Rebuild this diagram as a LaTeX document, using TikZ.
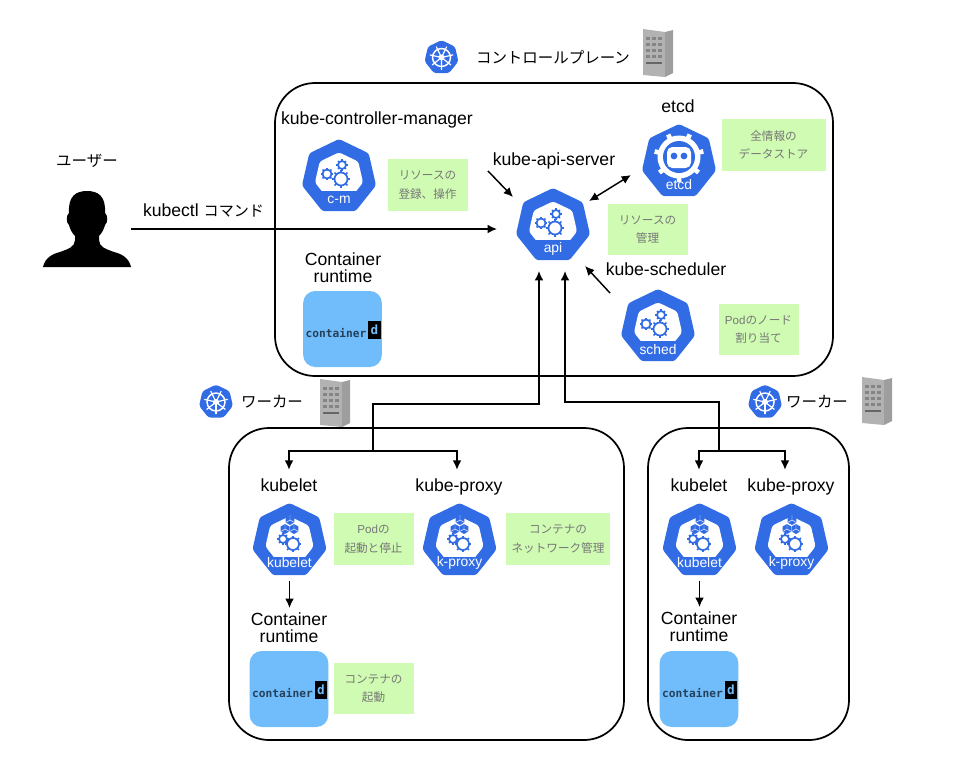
\documentclass[tikz,border=0pt]{standalone}
\usepackage{fontspec}
\setmainfont{Liberation Sans}
\newfontfamily\cjk{Noto Sans CJK JP}
\newfontfamily\cdmono{DejaVu Sans Mono}
\usepackage{xcolor}
\usetikzlibrary{shapes.geometric,arrows.meta,calc}

\definecolor{kubeblue}{HTML}{326CE5}
\definecolor{notegreen}{HTML}{CFFBB2}
\definecolor{notetext}{HTML}{777777}
\definecolor{cdblue}{HTML}{71BDFB}
\definecolor{cdtext}{HTML}{24405A}

\tikzset{
    arw/.style={-{Latex[length=7pt,width=6.5pt]},line width=1.1pt,black},
    planebox/.style={draw=black,line width=1.3pt,rounded corners=30pt,inner sep=0pt},
    titletext/.style={font=\fontsize{11.6}{14}\selectfont,inner sep=0pt},
    complabel/.style={font=\fontsize{13.2}{15}\selectfont,text height=9.5pt,text depth=1pt,inner sep=6.7pt},
    stacklabel/.style={font=\fontsize{13.2}{12.9}\selectfont,align=center,inner sep=3.5pt},
    notebox/.style={fill=notegreen,text=notetext,font=\cjk\fontsize{8.7}{14}\selectfont,align=center,
        minimum width=60pt,minimum height=38.5pt,inner sep=0pt},
    widenote/.style={notebox,minimum width=78pt},
    kubeicon/.style={regular polygon,regular polygon sides=7,fill=kubeblue,minimum size=57pt,
        rounded corners=2pt,inner sep=0pt,outer sep=0pt},
    kubeinner/.style={regular polygon,regular polygon sides=7,fill=white,minimum size=37pt,
        rounded corners=2pt,inner sep=0pt},
    icontext/.style={text=white,font=\fontsize{10.4}{11}\selectfont,inner sep=0pt},
    cdbox/.style={fill=cdblue,rounded corners=9pt,minimum width=59pt,minimum height=57pt,inner sep=0pt},
    % gear: radius in picture units
    pics/gear/.style={code={
        \foreach \a in {0,45,...,315}
            \draw[kubeblue,line width=1.3pt] (\a:#1) -- (\a:1.4*#1);
        \draw[kubeblue,line width=1.3pt] (0,0) circle (#1);
    }},
    % band under the white face, carries the icon text
    pics/iconband/.style={code={
        \fill[kubeblue] (-21,#1) rectangle (21,27);
    }},
    pics/cube/.style={code={
        \fill[kubeblue] (90:5) -- (30:5) -- (-30:5) -- (-90:5) -- (-150:5) -- (150:5) -- cycle;
        \draw[white,line width=.35pt] (0,0) -- (30:5) (0,0) -- (150:5) (0,0) -- (-90:5);
    }},
    pics/wheel/.style={code={
        \node[kubeicon,minimum size=26pt] (-hept) at (0,0) {};
        \draw[white,line width=1.1pt] (0,0) circle (9);
        \foreach \a in {90,141.4,...,450}
            \draw[white,line width=.9pt] (0,0) -- (\a:12);
        \fill[white] (0,0) circle (3);
    }},
    pics/server/.style={code={
        \fill[black!30] (-15,-24) -- (7,-21) -- (7,24) -- (-15,22) -- cycle;
        \fill[black!38] (7,-21) -- (15,-23) -- (15,20) -- (7,24) -- cycle;
        \foreach \r in {-16,-10,-4,2}
            \foreach \c in {-12,-6,0}
                \fill[black!48] (\c,\r) rectangle ++(4,2.5);
        \fill[black!60] (-12,9) rectangle (4,11);
    }},
    pics/containerd/.style={code={
        \node[text=cdtext,font=\cdmono\bfseries\fontsize{8.4}{10}\selectfont,inner sep=0pt] (-word) at (-6.5,4) {container};
        \node[fill=black,text=cdblue,font=\cdmono\bfseries\fontsize{9.5}{10}\selectfont,minimum width=9.7pt,minimum height=14pt,inner sep=0pt] (-d) at (32,1) {d};
    }},
}

\begin{document}
\begin{tikzpicture}[x=0.75pt,y=-0.75pt]
    \useasboundingbox (0,0) rectangle (975,768);

    % Planes
    \node[planebox,minimum width=418.5pt,minimum height=219.75pt] (cp) at (554,229.5) {};
    \node[planebox,minimum width=296.25pt,minimum height=234pt] (wl) at (426.5,584) {};
    \node[planebox,minimum width=150.75pt,minimum height=234pt] (wr) at (748.5,584) {};

    % Titles
    \pic (cpwheel) at (441.5,57.5) {wheel};
    \node[titletext] (cptitle) at (553,57) {\cjk コントロールプレーン};
    \pic (cpserver) at (658,53) {server};
    \pic (wlwheel) at (216,402) {wheel};
    \node[titletext] (wltitle) at (272,402) {\cjk ワーカー};
    \pic (wlserver) at (335,403) {server};
    \pic (wrwheel) at (765,402) {wheel};
    \node[titletext] (wrtitle) at (817,402) {\cjk ワーカー};
    \pic (wrserver) at (877,401) {server};

    % User
    \node[titletext] (usertitle) at (87,161) {\cjk ユーザー};
    \node[minimum width=66pt,minimum height=58pt,inner sep=0pt] (user) at (87,229) {};
    \fill[black] (43,267) .. controls (45,258) and (52,254) .. (60,252)
        .. controls (68,249) and (75,247) .. (75,240) -- (75,236)
        .. controls (72,233) and (70,229) .. (69,225)
        .. controls (66,223) and (66,215) .. (69,213)
        .. controls (68,196) and (76,191) .. (87,191)
        .. controls (98,191) and (106,196) .. (105,213)
        .. controls (108,215) and (108,223) .. (105,225)
        .. controls (104,229) and (102,233) .. (99,236) -- (99,240)
        .. controls (99,247) and (106,249) .. (114,252)
        .. controls (122,254) and (129,258) .. (131,267) -- cycle;
    \node[complabel] (kubectl) at (203.5,211) {kubectl {\cjk\fontsize{11.3}{14}\selectfont コマンド}};

    % Control plane
    \node[complabel] (cmlabel) at (377,119) {kube-controller-manager};
    \node[kubeicon] (cm) at (339,177) {};
    \node[kubeinner] (cminner) at (cm) {};
    \pic at (cm) {iconband=14};
    \pic at (341,179) {gear=6.5};
    \pic at (327,174) {gear=4.5};
    \pic at (342,165) {gear=4};
    \node[icontext] (cmtext) at (339,200) {c-m};
    \node[notebox] (cmnote) at (427.5,185) {リソースの\\登録、操作};

    \node[stacklabel] (crcp) at (343,268) {Container\\runtime};
    \node[cdbox] (cdcp) at (342.5,329) {};
    \pic (cdcpmark) at (cdcp) {containerd};

    \node[complabel] (apilabel) at (554,160) {kube-api-server};
    \node[kubeicon] (api) at (553,226) {};
    \node[kubeinner] (apiinner) at (api) {};
    \pic at (api) {iconband=14};
    \pic at (555,228) {gear=6.5};
    \pic at (541,223) {gear=4.5};
    \pic at (556,214) {gear=4};
    \node[icontext] (apitext) at (553,249) {api};
    \node[notebox] (apinote) at (647.5,229.5) {リソースの\\管理};

    \node[complabel] (etcdlabel) at (678,107) {etcd};
    \node[kubeicon] (etcd) at (679,162) {};
    \foreach \a in {90,141.4,...,450}
        \draw[white,line width=3.5pt] (679,157) ++(\a:20) -- ++(\a:5);
    \fill[white] (679,157) circle (21.5);
    \fill[kubeblue] (679,157) circle (16);
    \fill[white,rounded corners=4pt] (667,147) rectangle (691,168);
    \fill[kubeblue] (674,156) circle (3.4) (684,156) circle (3.4);
    \node[icontext] (etcdtext) at (679,185) {etcd};
    \node[widenote] (etcdnote) at (773.5,145) {全情報の\\データストア};

    \node[complabel] (schedlabel) at (666,270) {kube-scheduler};
    \node[kubeicon] (sched) at (658,327) {};
    \node[kubeinner] (schedinner) at (sched) {};
    \pic at (sched) {iconband=14};
    \pic at (660,329) {gear=6.5};
    \pic at (646,324) {gear=4.5};
    \pic at (661,315) {gear=4};
    \node[icontext] (schedtext) at (658,350) {sched};
    \node[notebox] (schednote) at (758.5,329.5) {{\fontspec{Liberation Sans}Pod}のノード\\割り当て};

    % Left worker
    \node[complabel] (kll) at (289,486) {kubelet};
    \node[kubeicon] (kl) at (289.5,541) {};
    \node[kubeinner] (klinner) at (kl) {};
    \pic at (kl) {iconband=16};
    \pic at (290,520) {cube};
    \pic at (285,529) {cube};
    \pic at (294,529) {cube};
    \pic at (283,539) {gear=4};
    \pic at (293,544) {gear=6};
    \node[icontext] (kltext) at (289.5,563) {kubelet};
    \node[notebox] (klnote) at (373.5,539) {{\fontspec{Liberation Sans}Pod}の\\起動と停止};

    \node[complabel] (kpl) at (459,486) {kube-proxy};
    \node[kubeicon] (kp) at (459.5,541) {};
    \node[kubeinner] (kpinner) at (kp) {};
    \pic at (kp) {iconband=16};
    \pic at (460,520) {cube};
    \pic at (455,529) {cube};
    \pic at (464,529) {cube};
    \pic at (453,539) {gear=4};
    \pic at (463,544) {gear=6};
    \node[icontext] (kptext) at (459.5,563) {k-proxy};
    \node[widenote] (kpnote) at (558,539) {コンテナの\\ネットワーク管理};

    \node[stacklabel] (crl) at (289,628) {Container\\runtime};
    \node[cdbox] (cdl) at (289,689) {};
    \pic (cdlmark) at (cdl) {containerd};
    \node[notebox] (cdlnote) at (373.5,688.5) {コンテナの\\起動};

    % Right worker
    \node[complabel] (krl) at (699,486) {kubelet};
    \node[kubeicon] (kr) at (699.5,541) {};
    \node[kubeinner] (krinner) at (kr) {};
    \pic at (kr) {iconband=16};
    \pic at (700,520) {cube};
    \pic at (695,529) {cube};
    \pic at (704,529) {cube};
    \pic at (693,539) {gear=4};
    \pic at (703,544) {gear=6};
    \node[icontext] (krtext) at (699.5,563) {kubelet};

    \node[complabel] (pxl) at (791,486) {kube-proxy};
    \node[kubeicon] (px) at (791.5,541) {};
    \node[kubeinner] (pxinner) at (px) {};
    \pic at (px) {iconband=16};
    \pic at (792,520) {cube};
    \pic at (787,529) {cube};
    \pic at (796,529) {cube};
    \pic at (785,539) {gear=4};
    \pic at (795,544) {gear=6};
    \node[icontext] (pxtext) at (791.5,563) {k-proxy};

    \node[stacklabel] (crr) at (699,627) {Container\\runtime};
    \node[cdbox] (cdr) at (699,689) {};
    \pic (cdrmark) at (cdr) {containerd};

    % Connectors
    \coordinate (kcend) at (497,229);
    \coordinate (apil) at (539,271);
    \coordinate (apir) at (565,271);
    \coordinate (wljoin) at (373,451);
    \coordinate (wlbend) at (539,404);
    \coordinate (wrjoin) at (719,451);
    \coordinate (wrbend) at (565,402);
    \coordinate (apifrom) at (488,171);
    \coordinate (apito) at (513,197);
    \coordinate (etcdfrom) at (589,201);
    \coordinate (etcdto) at (631,175);
    \coordinate (schedfrom) at (610,293);
    \coordinate (schedto) at (585,266);

    \draw[arw] (user.east) -- (kcend);
    \draw[arw] (apifrom) -- (apito);
    \draw[arw,{Latex[length=7pt,width=6.5pt]}-{Latex[length=7pt,width=6.5pt]}] (etcdfrom) -- (etcdto);
    \draw[arw] (schedfrom) -- (schedto);
    \draw[arw] (wljoin) |- (wlbend) -- (apil);
    \draw[arw] (wrjoin) |- (wrbend) -- (apir);
    \draw[arw] (wljoin) -| (kll.north);
    \draw[arw] (wljoin) -| ([xshift=-1.5pt]kpl.north);
    \draw[arw] (wrjoin) -| (krl.north);
    \draw[arw] (wrjoin) -| ([xshift=-4.5pt]pxl.north);
    \draw[arw,shorten <=4pt] (kl.south) -- (kl.south |- crl.north);
    \draw[arw,shorten <=4pt] (kr.south) -- (kr.south |- crr.north);
\end{tikzpicture}
\end{document}
